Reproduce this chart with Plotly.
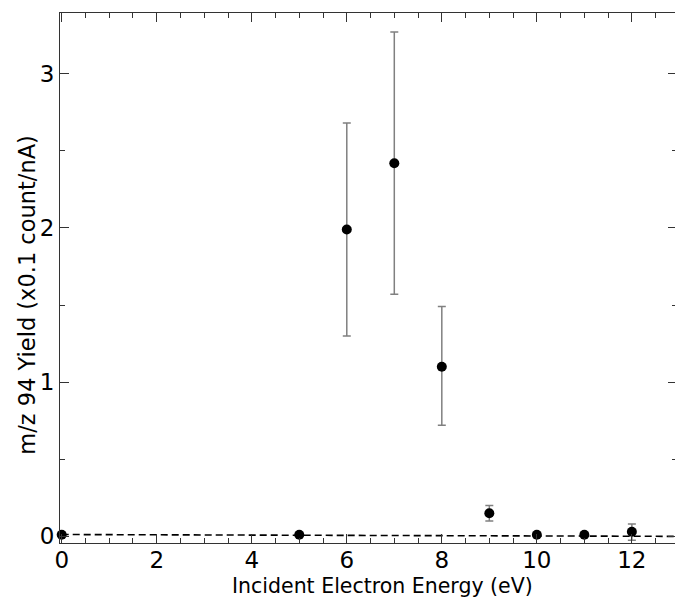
import plotly.graph_objects as go

energy = [0, 5, 6, 7, 8, 9, 10, 11, 12]
yield_vals = [0.01, 0.01, 1.99, 2.42, 1.10, 0.15, 0.01, 0.01, 0.03]
err_plus = [0.0, 0.0, 0.69, 0.85, 0.39, 0.05, 0.0, 0.0, 0.05]
err_minus = [0.0, 0.0, 0.69, 0.85, 0.38, 0.05, 0.0, 0.0, 0.055]

fit_x = [0, 12.95]
fit_y = [0.012, 0.0]

x_title = "Incident Electron Energy (eV)"
y_title = "m/z 94 Yield (x0.1 count/nA)"

fig = go.Figure()
fig.add_trace(go.Scatter(
    x=fit_x, y=fit_y, mode="lines",
    line=dict(color="black", width=1.6, dash="7px,4px"),
    showlegend=False, hoverinfo="skip"))
fig.add_trace(go.Scatter(
    x=energy, y=yield_vals, mode="markers",
    marker=dict(color="black", size=10),
    error_y=dict(type="data", symmetric=False, array=err_plus, arrayminus=err_minus,
                 color="#808080", thickness=1.5, width=4),
    showlegend=False, cliponaxis=False))

axis_common = dict(showgrid=False, zeroline=False, showline=True, linewidth=1.2,
                   mirror="ticks", ticks="inside", ticklen=9, tickwidth=1,
                   tickcolor="#333", linecolor="#333", automargin=False,
                   minor=dict(ticks="inside", ticklen=5, tickwidth=1, tickcolor="#333"))

tick_font = dict(family="DejaVu Sans, Verdana", size=23, color="black")

fig.update_layout(
    width=677, height=597,
    margin=dict(l=60, r=0, t=13, b=54, autoexpand=False),
    plot_bgcolor="white", paper_bgcolor="white",
    xaxis=dict(range=[-0.036, 12.95], tickvals=[0, 2, 4, 6, 8, 10, 12],
               minor_dtick=0.5, tickfont=tick_font, ticklabelstandoff=-4,
               **axis_common),
    yaxis=dict(range=[-0.043, 3.394], tickvals=[0, 1, 2, 3],
               minor_dtick=0.5, tickfont=tick_font, **axis_common),
    annotations=[
        dict(text=x_title, xref="paper", yref="paper", x=0.5235, y=-0.0815,
             xanchor="center", yanchor="middle", showarrow=False,
             font=dict(family="DejaVu Sans, Verdana", size=20.5, color="black")),
        dict(text=y_title, xref="paper", yref="paper", x=-0.054, y=0.468,
             xanchor="center", yanchor="middle", showarrow=False, textangle=-90,
             font=dict(family="DejaVu Sans, Verdana", size=22.5, color="black")),
    ],
)

fig.write_html("out.html", config={"displayModeBar": False},
               post_script="document.body.style.margin='0';document.body.style.overflow='hidden';")
